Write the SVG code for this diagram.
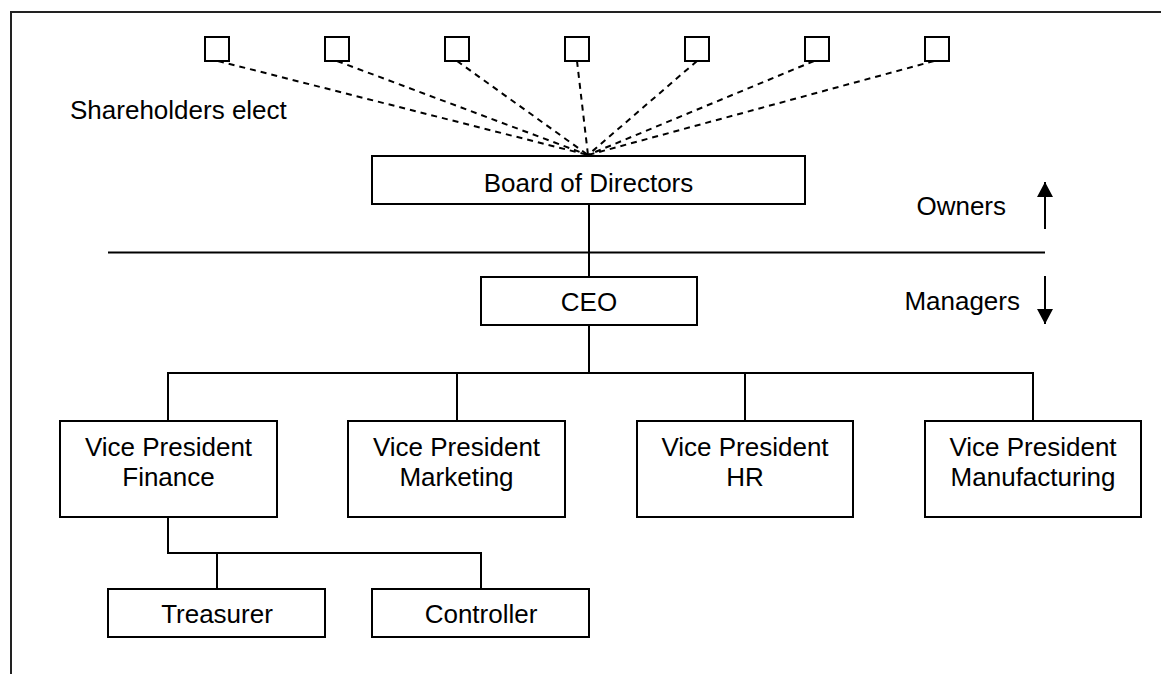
<svg xmlns="http://www.w3.org/2000/svg" width="1161" height="674" viewBox="0 0 1161 674">
  <defs>
    <style>
      .box { fill: #ffffff; stroke: #000000; stroke-width: 2; }
      .sq { fill: #ffffff; stroke: #000000; stroke-width: 2; }
      .ln { stroke: #000000; stroke-width: 2; fill: none; }
      .dash { stroke: #000000; stroke-width: 2; stroke-dasharray: 6 5; fill: none; }
      .t { font-family: "Liberation Sans", Arial, sans-serif; font-size: 26px; fill: #000000; }
      .c { text-anchor: middle; }
      .e { text-anchor: end; }
    </style>
    <marker id="ah" viewBox="0 0 15 16" refX="15" refY="8" markerWidth="15" markerHeight="16" markerUnits="userSpaceOnUse" orient="auto">
      <path d="M0,0 L15,8 L0,16 z" fill="#000000"/>
    </marker>
  </defs>
  <rect width="1161" height="674" fill="#ffffff"/>
  <path d="M11,674 V12 H1161" fill="none" stroke="#222222" stroke-width="2"/>

  <g id="connectors">
    <line class="dash" x1="218" y1="61" x2="588" y2="155"/>
    <line class="dash" x1="337" y1="61" x2="588" y2="155"/>
    <line class="dash" x1="457" y1="61" x2="588" y2="155"/>
    <line class="dash" x1="577" y1="61" x2="588" y2="155"/>
    <line class="dash" x1="697" y1="61" x2="588" y2="155"/>
    <line class="dash" x1="814" y1="61" x2="588" y2="155"/>
    <line class="dash" x1="934" y1="61" x2="588" y2="155"/>
    <line class="ln" x1="589" y1="204" x2="589" y2="277"/>
    <line class="ln" x1="589" y1="325" x2="589" y2="373"/>
    <path class="ln" d="M168,421 V373 H1033 V421"/>
    <line class="ln" x1="457" y1="373" x2="457" y2="421"/>
    <line class="ln" x1="745" y1="373" x2="745" y2="421"/>
    <path class="ln" d="M168,517 V553 H481 V589"/>
    <line class="ln" x1="217" y1="553" x2="217" y2="589"/>
  </g>

  <g id="divider">
    <line class="ln" x1="108" y1="252.5" x2="1045" y2="252.5"/>
    <line class="ln" x1="1045" y1="229" x2="1045" y2="182" marker-end="url(#ah)"/>
    <line class="ln" x1="1045" y1="276" x2="1045" y2="324" marker-end="url(#ah)"/>
    <text class="t e" x="1006" y="215">Owners</text>
    <text class="t e" x="1020" y="310">Managers</text>
  </g>

  <g id="shareholders">
    <rect class="sq" x="205" y="37" width="24" height="24"/>
    <rect class="sq" x="325" y="37" width="24" height="24"/>
    <rect class="sq" x="445" y="37" width="24" height="24"/>
    <rect class="sq" x="565" y="37" width="24" height="24"/>
    <rect class="sq" x="685" y="37" width="24" height="24"/>
    <rect class="sq" x="805" y="37" width="24" height="24"/>
    <rect class="sq" x="925" y="37" width="24" height="24"/>
    <text class="t" x="70" y="119">Shareholders elect</text>
  </g>

  <g id="board">
    <rect class="box" x="372" y="156" width="433" height="48"/>
    <text class="t c" x="588.5" y="192">Board of Directors</text>
  </g>

  <g id="ceo">
    <rect class="box" x="481" y="277" width="216" height="48"/>
    <text class="t c" x="589" y="311">CEO</text>
  </g>

  <g id="vp-finance">
    <rect class="box" x="60" y="421" width="217" height="96"/>
    <text class="t c" x="168.5" y="456">Vice President</text>
    <text class="t c" x="168.5" y="486">Finance</text>
  </g>

  <g id="vp-marketing">
    <rect class="box" x="348" y="421" width="217" height="96"/>
    <text class="t c" x="456.5" y="456">Vice President</text>
    <text class="t c" x="456.5" y="486">Marketing</text>
  </g>

  <g id="vp-hr">
    <rect class="box" x="637" y="421" width="216" height="96"/>
    <text class="t c" x="745" y="456">Vice President</text>
    <text class="t c" x="745" y="486">HR</text>
  </g>

  <g id="vp-manufacturing">
    <rect class="box" x="925" y="421" width="216" height="96"/>
    <text class="t c" x="1033" y="456">Vice President</text>
    <text class="t c" x="1033" y="486">Manufacturing</text>
  </g>

  <g id="treasurer">
    <rect class="box" x="108" y="589" width="217" height="48"/>
    <text class="t c" x="217" y="623">Treasurer</text>
  </g>

  <g id="controller">
    <rect class="box" x="372" y="589" width="217" height="48"/>
    <text class="t c" x="481" y="623">Controller</text>
  </g>
</svg>
